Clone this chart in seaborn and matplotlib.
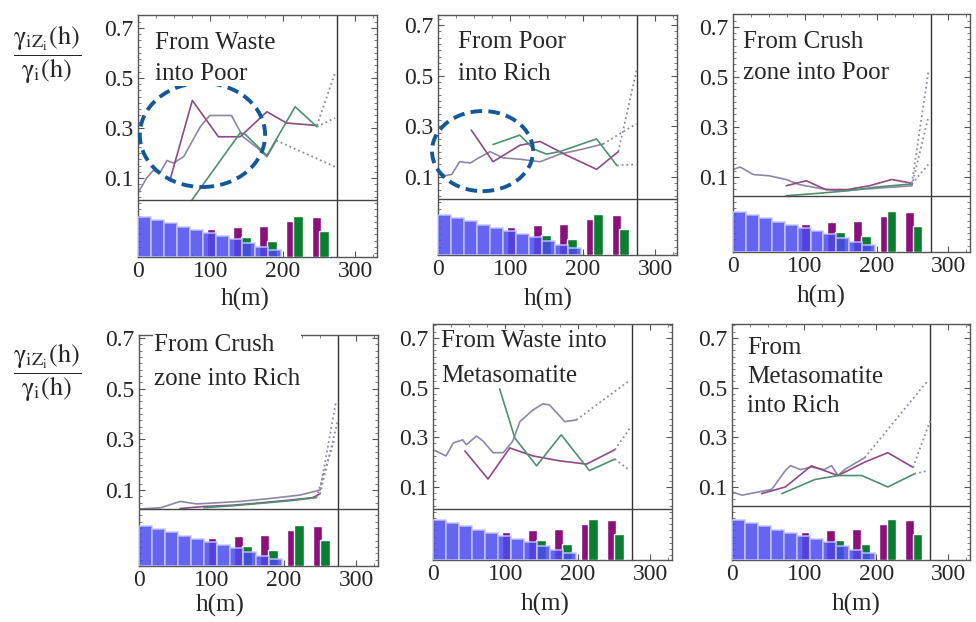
import matplotlib
matplotlib.use("Agg")
import matplotlib.pyplot as plt
import seaborn as sns
from matplotlib.patches import Ellipse
from matplotlib.ticker import MultipleLocator

titles = ["From Waste\ninto Poor", "From Poor\ninto Rich", "From Crush\nzone into Poor",
          "From Crush\nzone into Rich", "From Waste into\nMetasomatite", "From\nMetasomatite\ninto Rich"]

# relative number of pairs per lag class (same in every panel)
blue_h = [0, 18, 36, 54, 72, 90, 108, 126, 144, 162, 180]
blue_n = [1.0, 0.92, 0.84, 0.76, 0.68, 0.60, 0.52, 0.44, 0.35, 0.26, 0.17]
purple_bar_h = [101, 137, 173, 210, 246]
purple_bar_n = [0.70, 0.75, 0.77, 0.90, 1.0]
green_bar_h = [149, 185, 221, 257]
green_bar_n = [0.50, 0.40, 1.02, 0.65]

# ratio curves, last segment of each is the dotted extrapolation
lav_h = [
    [0, 12, 21, 30, 40, 49, 63, 86, 99, 129, 145, 165, 178, 191, 272],
    [0, 10, 19, 30, 45, 53, 72, 90, 113, 141, 168, 200, 228, 274],
    [0, 10, 28, 50, 74, 92, 110, 130, 150, 175, 200, 249, 272],
    [0, 30, 57, 80, 110, 140, 176, 222, 250, 272],
    [0, 18, 28, 41, 46, 60, 69, 83, 97, 110, 120, 138, 152, 161, 182, 198, 272],
    [0, 14, 37, 55, 74, 81, 95, 110, 128, 138, 147, 157, 184, 272],
]
lav_v = [
    [0.04, 0.10, 0.13, 0.12, 0.17, 0.16, 0.185, 0.305, 0.35, 0.35, 0.265, 0.22, 0.185, 0.25, 0.145],
    [0.125, 0.105, 0.11, 0.16, 0.155, 0.17, 0.20, 0.175, 0.17, 0.16, 0.19, 0.21, 0.23, 0.31],
    [0.13, 0.14, 0.11, 0.105, 0.09, 0.07, 0.06, 0.05, 0.045, 0.05, 0.055, 0.065, 0.34],
    [0.025, 0.03, 0.055, 0.045, 0.05, 0.055, 0.065, 0.08, 0.10, 0.45],
    [0.25, 0.225, 0.277, 0.29, 0.27, 0.305, 0.285, 0.238, 0.238, 0.284, 0.363, 0.41, 0.435, 0.43, 0.363, 0.37, 0.53],
    [0.08, 0.067, 0.08, 0.09, 0.166, 0.186, 0.17, 0.18, 0.17, 0.186, 0.146, 0.172, 0.218, 0.53],
]
pur_h = [
    [44, 75, 111, 141, 178, 205, 247, 272],
    [46, 76, 113, 141, 178, 219, 249, 274],
    [74, 102, 129, 160, 190, 221, 249, 272],
    [57, 90, 130, 170, 208, 240, 250, 275],
    [44, 76, 106, 138, 175, 212, 251, 272],
    [41, 74, 110, 147, 184, 216, 251, 276],
]
pur_v = [
    [0.09, 0.41, 0.265, 0.265, 0.365, 0.32, 0.31, 0.52],
    [0.285, 0.16, 0.225, 0.24, 0.185, 0.13, 0.20, 0.52],
    [0.065, 0.085, 0.05, 0.05, 0.065, 0.09, 0.075, 0.52],
    [0.027, 0.035, 0.04, 0.05, 0.06, 0.07, 0.085, 0.38],
    [0.245, 0.132, 0.257, 0.225, 0.205, 0.192, 0.25, 0.337],
    [0.073, 0.10, 0.185, 0.146, 0.20, 0.238, 0.179, 0.376],
]
grn_h = [
    [74, 141, 148, 178, 217, 247, 272],
    [76, 113, 132, 150, 168, 219, 247, 274],
    [74, 120, 160, 200, 249, 272],
    [90, 130, 170, 210, 245, 270],
    [92, 113, 143, 177, 216, 251, 272],
    [69, 115, 147, 180, 216, 253, 272],
]
grn_v = [
    [0.01, 0.28, 0.275, 0.19, 0.385, 0.305, 0.34],
    [0.228, 0.265, 0.21, 0.19, 0.20, 0.25, 0.145, 0.15],
    [0.025, 0.035, 0.045, 0.06, 0.072, 0.15],
    [0.03, 0.038, 0.048, 0.058, 0.07, 0.30],
    [0.495, 0.297, 0.185, 0.31, 0.166, 0.212, 0.166],
    [0.073, 0.13, 0.146, 0.146, 0.10, 0.153, 0.166],
]

# dashed highlight ellipses (panels 1 and 2)
ell_center = [(89, 0.272), (61.5, 0.202)]
ell_w = [173, 139.5]
ell_hgt = [0.416, 0.316]

sns.set_theme(style="ticks")
plt.rcParams["font.family"] = ["Liberation Serif", "DejaVu Serif"]
plt.rcParams["mathtext.fontset"] = "stix"

W, H = 976, 622
fig = plt.figure(figsize=(W / 100, H / 100), dpi=100)

# panel boxes in pixels and y ranges
lefts = [138, 438, 733, 139, 433, 732]
rights = [377, 677, 970, 378, 672, 970]
tops = [15, 15, 14, 335, 324, 324]
bottoms = [257, 255, 252, 566, 560, 560]
ylo = [-0.216, -0.208, -0.2, -0.2, -0.194, -0.194]
yhi = [0.752, 0.739, 0.752, 0.712, 0.756, 0.756]
zero_y = [0.012, 0.013, 0.024, 0.025, 0.011, 0.025]
title_x = [0.071, 0.084, 0.042, 0.063, 0.033, 0.063]
title_last_base = [80, 80, 79, 385, 382, 412]   # baseline of the last title line, px
title_ls = [1.52, 1.59, 1.52, 1.68, 1.78, 1.42]
xlab_x = [0.45, 0.46, 0.37, 0.34, 0.47, 0.52]
xlab_top = [288, 288, 285, 594, 593, 593]

c_lav, c_pur, c_grn, c_dot = "#8d87a6", "#8e4a84", "#4f9070", "#8c8ca0"

for i in range(6):
    hpx = bottoms[i] - tops[i]
    rect = [lefts[i] / W, 1 - bottoms[i] / H, (rights[i] - lefts[i]) / W, hpx / H]
    ax = fig.add_axes(rect)
    ax.set_xlim(0, 330)
    ax.set_ylim(ylo[i], yhi[i])

    for hs, vs, col in [(lav_h[i], lav_v[i], c_lav), (pur_h[i], pur_v[i], c_pur), (grn_h[i], grn_v[i], c_grn)]:
        sns.lineplot(x=hs[:-1], y=vs[:-1], ax=ax, color=col, lw=1.2, sort=False, estimator=None)
        sns.lineplot(x=hs[-2:], y=vs[-2:], ax=ax, color=c_dot, lw=1.3, linestyle=":", sort=False, estimator=None)

    ax.axvline(275, color="#333333", lw=1.0, zorder=1)
    ax.axhline(zero_y[i], color="#444444", lw=1.0)

    # pair-count bars in the lower band (tallest bar ~40 px)
    frac = (zero_y[i] - ylo[i]) / (yhi[i] - ylo[i])
    bx = ax.inset_axes([0, 0, 1, frac])
    bx.set_xlim(0, 330)
    bx.set_ylim(0, frac * hpx / 40)
    bx.axis("off")
    bx.bar(purple_bar_h, purple_bar_n, width=12, color="#8b0f7d")
    bx.bar(green_bar_h, green_bar_n, width=13, color="#0b7d2e")
    bx.bar(blue_h, blue_n, width=18, align="edge", color="#4a4af0", alpha=0.85,
           edgecolor="#c4c4ff", linewidth=1.2)

    if i < 2:
        ax.add_patch(Ellipse(ell_center[i], ell_w[i], ell_hgt[i], fill=False, ec="#15589a",
                             lw=2.8, ls=(0, (3, 1.6)), clip_on=False, zorder=6))

    ty = (bottoms[i] - title_last_base[i]) / hpx
    ax.text(title_x[i], ty, titles[i], transform=ax.transAxes, ha="left", va="baseline",
            fontsize=18, linespacing=title_ls[i], zorder=8,
            bbox=dict(facecolor="white", edgecolor="none", pad=0.5))

    ax.set_xticks([0, 100, 200, 300])
    ax.set_yticks([0.1, 0.3, 0.5, 0.7])
    ax.set_yticklabels(["0.1", "0.3", "0.5", "0.7"])
    ax.xaxis.set_minor_locator(MultipleLocator(25))
    ax.yaxis.set_minor_locator(MultipleLocator(0.025))
    ax.tick_params(which="major", direction="in", top=True, right=True, length=4, width=0.8,
                   labelsize=17, color="#555555", pad=3)
    ax.tick_params(which="minor", direction="in", top=True, right=True, length=2.2, width=0.6,
                   color="#666666")
    for s in ax.spines.values():
        s.set_color("#555555")
        s.set_linewidth(1.0)
    ax.set_xlabel("h(m)", fontsize=18)
    ax.xaxis.set_label_coords(xlab_x[i], -(xlab_top[i] - bottoms[i]) / hpx)
    ax.set_ylabel("")

frac_label = r"$\dfrac{\mathrm{\gamma_{iZ_i}(h)}}{\mathrm{\gamma_i(h)}}$"
fig.text(47 / W, 1 - 55 / H, frac_label, ha="center", va="center", fontsize=19)
fig.text(47 / W, 1 - 373 / H, frac_label, ha="center", va="center", fontsize=19)

fig.savefig("out.png", dpi=100)
